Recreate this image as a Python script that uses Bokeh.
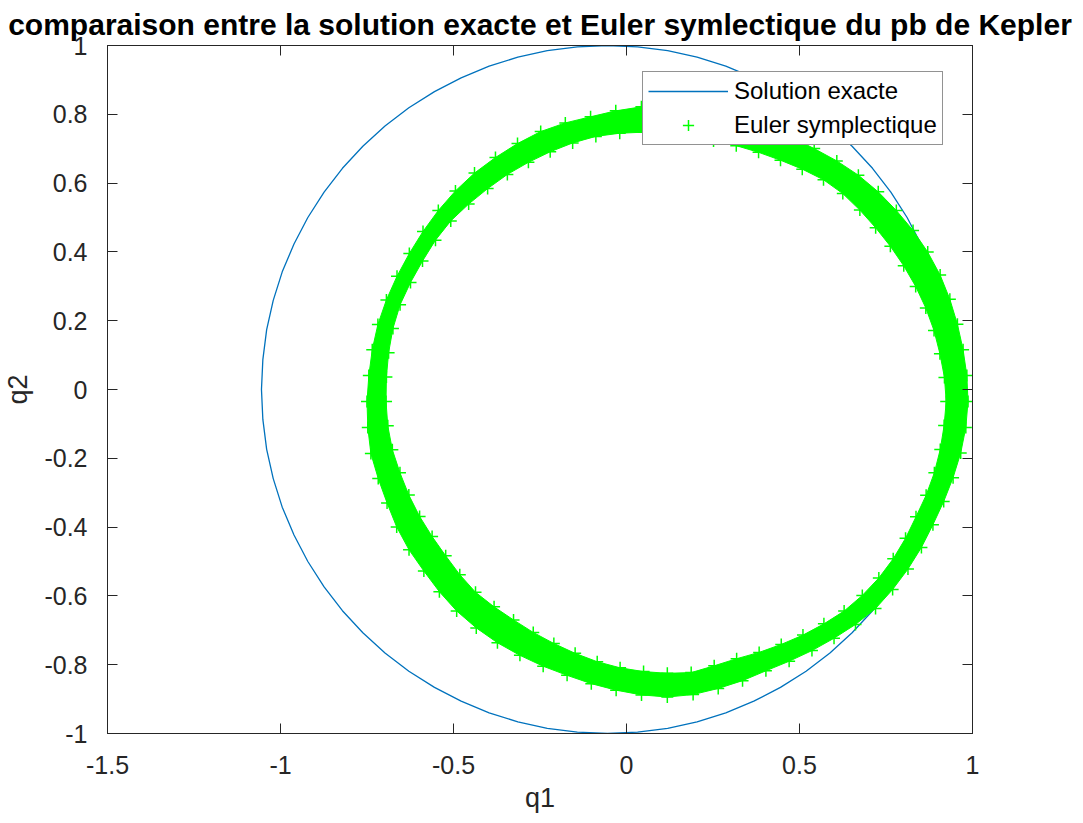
import numpy as np
from bokeh.plotting import figure
from bokeh.models import Range1d, LinearAxis, FixedTicker, Legend, LegendItem
from bokeh.embed import file_html
from bokeh.resources import INLINE

# Exact Kepler orbit (q1, q2), sampled every 5 degrees
exact_q1 = [0.945, 0.941, 0.930, 0.911, 0.885, 0.851, 0.811, 0.764, 0.711, 0.652,
            0.588, 0.519, 0.445, 0.368, 0.287, 0.204, 0.119, 0.032, -0.055,
            -0.142, -0.229, -0.314, -0.397, -0.478, -0.555, -0.629, -0.698, -0.762,
            -0.821, -0.874, -0.921, -0.961, -0.995, -1.021, -1.040, -1.051, -1.055,
            -1.051, -1.040, -1.021, -0.995, -0.961, -0.921, -0.874, -0.821, -0.762,
            -0.698, -0.629, -0.555, -0.478, -0.397, -0.314, -0.229, -0.142, -0.055,
            0.032, 0.119, 0.204, 0.287, 0.368, 0.445, 0.519, 0.588, 0.652, 0.711,
            0.764, 0.811, 0.851, 0.885, 0.911, 0.930, 0.941, 0.945]
exact_q2 = [0.000, 0.087, 0.174, 0.259, 0.342, 0.423, 0.500, 0.574, 0.643, 0.707,
            0.766, 0.819, 0.866, 0.906, 0.940, 0.966, 0.985, 0.996, 1.000,
            0.996, 0.985, 0.966, 0.940, 0.906, 0.866, 0.819, 0.766, 0.707,
            0.643, 0.574, 0.500, 0.423, 0.342, 0.259, 0.174, 0.087, 0.000,
            -0.087, -0.174, -0.259, -0.342, -0.423, -0.500, -0.574, -0.643, -0.707,
            -0.766, -0.819, -0.866, -0.906, -0.940, -0.966, -0.985, -0.996, -1.000,
            -0.996, -0.985, -0.966, -0.940, -0.906, -0.866, -0.819, -0.766, -0.707,
            -0.643, -0.574, -0.500, -0.423, -0.342, -0.259, -0.174, -0.087, 0.000]

# Symplectic Euler iterates: the precessing orbit fills a band around this centre
band_center_q1 = 0.118
band_center_q2 = -0.035
band_angle_deg = list(range(0, 360, 5))
band_outer_r = [0.869, 0.869, 0.868, 0.868, 0.869, 0.870, 0.869, 0.867, 0.864, 0.862,
                0.859, 0.854, 0.849, 0.848, 0.848, 0.848, 0.849, 0.851, 0.857, 0.860,
                0.858, 0.857, 0.862, 0.866, 0.866, 0.866, 0.867, 0.866, 0.864, 0.862,
                0.861, 0.862, 0.864, 0.866, 0.866, 0.866, 0.868, 0.869, 0.870, 0.865,
                0.862, 0.863, 0.862, 0.859, 0.860, 0.861, 0.859, 0.856, 0.852, 0.849,
                0.847, 0.849, 0.852, 0.856, 0.859, 0.855, 0.847, 0.840, 0.833, 0.833,
                0.836, 0.840, 0.846, 0.851, 0.850, 0.849, 0.848, 0.847, 0.850, 0.855,
                0.861, 0.866]
band_inner_r = [0.806, 0.804, 0.800, 0.798, 0.795, 0.792, 0.789, 0.787, 0.786, 0.787,
                0.789, 0.787, 0.780, 0.774, 0.771, 0.770, 0.769, 0.772, 0.780, 0.786,
                0.792, 0.798, 0.800, 0.801, 0.803, 0.806, 0.808, 0.812, 0.817, 0.818,
                0.817, 0.819, 0.822, 0.821, 0.818, 0.815, 0.813, 0.811, 0.807, 0.800,
                0.795, 0.790, 0.785, 0.782, 0.783, 0.784, 0.779, 0.775, 0.775, 0.776,
                0.779, 0.783, 0.786, 0.788, 0.790, 0.791, 0.780, 0.774, 0.776, 0.779,
                0.784, 0.789, 0.795, 0.797, 0.798, 0.797, 0.795, 0.793, 0.796, 0.799,
                0.801, 0.803]

x_ticks = [-1.5, -1.0, -0.5, 0.0, 0.5, 1.0]
x_tick_labels = ["-1.5", "-1", "-0.5", "0", "0.5", "1"]
y_ticks = [-1.0, -0.8, -0.6, -0.4, -0.2, 0.0, 0.2, 0.4, 0.6, 0.8, 1.0]
y_tick_labels = ["-1", "-0.8", "-0.6", "-0.4", "-0.2", "0", "0.2", "0.4", "0.6", "0.8", "1"]

FONT = "Liberation Sans"
INK = "#262626"
GREEN = "#00FF00"
BLUE = "#0072BD"

# band edges in (q1, q2)
theta = np.radians(band_angle_deg)
outer_q1 = band_center_q1 + np.array(band_outer_r) * np.cos(theta)
outer_q2 = band_center_q2 + np.array(band_outer_r) * np.sin(theta)
inner_q1 = band_center_q1 + np.array(band_inner_r) * np.cos(theta)
inner_q2 = band_center_q2 + np.array(band_inner_r) * np.sin(theta)

p = figure(width=1083, height=823, x_range=Range1d(-1.5, 1.0), y_range=Range1d(-1.0, 1.0),
           output_backend="svg", toolbar_location=None,
           min_border_left=107, min_border_right=111, min_border_top=45, min_border_bottom=90)

p.title.text = "comparaison entre la solution exacte et Euler symlectique du pb de Kepler"
p.title.text_font = FONT
p.title.text_font_size = "30px"
p.title.text_font_style = "bold"
p.title.text_color = "#000000"
p.title.align = "center"
p.title.standoff = 10

p.grid.visible = False
p.outline_line_color = INK
p.outline_line_width = 1

x_tick_map = {v: s for v, s in zip(x_ticks, x_tick_labels)}
y_tick_map = {v: s for v, s in zip(y_ticks, y_tick_labels)}


def style_axis(ax, ticks, overrides, show_labels):
    ax.ticker = FixedTicker(ticks=ticks)
    ax.minor_tick_line_color = None
    ax.major_tick_in = 10
    ax.major_tick_out = 0
    ax.axis_line_color = INK
    ax.major_tick_line_color = INK
    ax.axis_line_width = 1
    if show_labels:
        ax.major_label_overrides = overrides
        ax.major_label_text_font = FONT
        ax.major_label_text_font_size = "25px"
        ax.major_label_text_color = INK
        ax.axis_label_text_font = FONT
        ax.axis_label_text_font_size = "27px"
        ax.axis_label_text_font_style = "normal"
        ax.axis_label_text_color = INK
    else:
        # mirrored box axis: ticks only
        ax.major_label_text_color = None
        ax.major_label_text_font_size = "0px"
        ax.major_label_standoff = 0


style_axis(p.xaxis[0], x_ticks, x_tick_map, True)
style_axis(p.yaxis[0], y_ticks, y_tick_map, True)
p.xaxis[0].axis_label = "q1"
p.yaxis[0].axis_label = "q2"
p.xaxis[0].major_label_standoff = 22
p.yaxis[0].major_label_standoff = 20
p.xaxis[0].axis_label_standoff = 6
p.yaxis[0].axis_label_standoff = 8

top_axis = LinearAxis()
right_axis = LinearAxis()
style_axis(top_axis, x_ticks, x_tick_map, False)
style_axis(right_axis, y_ticks, y_tick_map, False)
p.add_layout(top_axis, "above")
p.add_layout(right_axis, "right")

exact = p.line(exact_q1, exact_q2, line_color=BLUE, line_width=1.3)

p.multi_polygons(xs=[[[list(outer_q1), list(inner_q1)]]], ys=[[[list(outer_q2), list(inner_q2)]]],
                 fill_color=GREEN, line_color=GREEN, line_width=1)
euler = p.scatter(np.concatenate([outer_q1, inner_q1]), np.concatenate([outer_q2, inner_q2]),
                  marker="cross", size=12, line_color=GREEN, line_width=1.5)

legend = Legend(items=[LegendItem(label="Solution exacte", renderers=[exact]),
                       LegendItem(label="Euler symplectique", renderers=[euler])],
                location=(535, 588))
legend.label_text_font = FONT
legend.label_text_font_size = "24px"
legend.label_text_color = "#000000"
legend.glyph_width = 80
legend.glyph_height = 28
legend.label_height = 28
legend.label_standoff = 6
legend.spacing = 6
legend.padding = 5
legend.margin = 0
legend.border_line_color = INK
legend.border_line_width = 1
legend.background_fill_color = "#ffffff"
legend.background_fill_alpha = 1.0
p.add_layout(legend)

open("out.html", "w").write(file_html(p, INLINE))
